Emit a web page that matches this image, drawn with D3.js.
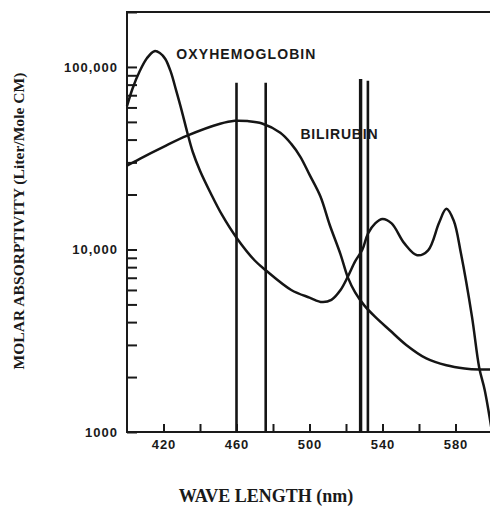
<!DOCTYPE html>
<html>
<head>
<meta charset="utf-8">
<script src="https://cdn.jsdelivr.net/npm/d3@7"></script>
<style>
  html, body { margin: 0; padding: 0; background: #fff; }
  svg { display: block; }
</style>
</head>
<body>
<div id="chart"></div>
<script>
// oxyhemoglobin curve, wavelength (nm) and molar absorptivity
var oxyNm  = [400, 403, 407, 411, 415, 418, 421, 424, 427, 430, 433, 436, 440, 446, 452, 460, 470, 476, 490, 500, 507, 512, 517, 521, 525, 529, 532, 536, 540, 545, 552, 559, 565, 571, 575, 579, 583, 589, 593, 596, 600];
var oxyVal = [61000, 76000, 95000, 112000, 122000, 119300, 110600, 93900, 73900, 57500, 43900, 34300, 27000, 20200, 15500, 11600, 8700, 7700, 6000, 5450, 5150, 5300, 6000, 7100, 8600, 10000, 12200, 13900, 14700, 13900, 10800, 9300, 9900, 14000, 16700, 14400, 9500, 4300, 2250, 1700, 1000];
// bilirubin curve
var biliNm  = [400, 407, 420, 433, 451, 459, 466, 474, 484, 490, 495, 500, 506, 511, 517, 521, 525, 530, 536, 544, 553, 564, 575, 585, 593, 600];
var biliVal = [28800, 31400, 36500, 42000, 48800, 50700, 50500, 49000, 43600, 37900, 32200, 25700, 19500, 13700, 9400, 7030, 5820, 4940, 4270, 3610, 3000, 2530, 2320, 2230, 2200, 2200];
// vertical source lines
var lineNm  = [460, 476, 528, 532];
var lineTop = [82000, 82000, 86000, 84000];
// axis ticks
var xTicks      = [420, 440, 460, 480, 500, 520, 540, 560, 580];
var xTickLabels = ["420", "", "460", "", "500", "", "540", "", "580"];
var yTickValues = [1000, 10000, 100000];
var yTickLabels = ["1000", "10,000", "100,000"];

(function(){
    var Chart = {
        dim: { w: 490, h: 508, left: 127, top: 12, right: 492, bottom: 432 },
        init: function() {
            this.svg = d3.select("#chart").append("svg")
                .attr("width", this.dim.w)
                .attr("height", this.dim.h);
            this.x = d3.scaleLinear().domain([400, 600]).range([this.dim.left, this.dim.right]);
            this.y = d3.scaleLog().domain([1000, 200000]).range([this.dim.bottom, this.dim.top]);
            this.drawAxes();
            this.drawCurves();
            this.drawLabels();
        },
        drawAxes: function() {
            var x = this.x, y = this.y, d = this.dim, svg = this.svg;
            var xa = svg.append("g")
                .attr("transform", "translate(0," + d.bottom + ")")
                .call(d3.axisBottom(x)
                    .tickValues(xTicks)
                    .tickSize(-8)
                    .tickSizeOuter(0)
                    .tickPadding(8)
                    .tickFormat(function(v, i){ return xTickLabels[i]; }));
            var ya = svg.append("g")
                .attr("transform", "translate(" + d.left + ",0)")
                .call(d3.axisLeft(y)
                    .tickValues(y.ticks())
                    .tickSize(-10)
                    .tickSizeOuter(0)
                    .tickPadding(9)
                    .tickFormat(function(v){
                        var k = yTickValues.indexOf(v);
                        return k < 0 ? "" : yTickLabels[k];
                    }));
            [xa, ya].forEach(function(g){
                g.select(".domain").remove();
                g.selectAll(".tick line").attr("stroke", "#1a1a1a").attr("stroke-width", 2);
                g.selectAll(".tick text")
                    .attr("fill", "#1a1a1a")
                    .style("font-family", "'Liberation Sans', Arial, sans-serif")
                    .style("font-weight", "bold")
                    .style("font-size", "13px")
                    .style("letter-spacing", "1px");
            });
            // frame
            svg.append("rect")
                .attr("x", d.left).attr("y", d.top)
                .attr("width", d.right - d.left).attr("height", d.bottom - d.top)
                .attr("fill", "none").attr("stroke", "#1a1a1a").attr("stroke-width", 2);
        },
        drawCurves: function() {
            var x = this.x, y = this.y, svg = this.svg;
            var line = d3.line()
                .x(function(p){ return x(p[0]); })
                .y(function(p){ return y(p[1]); })
                .curve(d3.curveCatmullRom.alpha(0.5));
            var curves = [d3.zip(oxyNm, oxyVal), d3.zip(biliNm, biliVal)];
            svg.selectAll("path.curve")
                .data(curves)
                .enter().append("path")
                .attr("class", "curve")
                .attr("d", line)
                .attr("fill", "none")
                .attr("stroke", "#151515")
                .attr("stroke-width", 2.5);
            svg.selectAll("line.src")
                .data(d3.zip(lineNm, lineTop))
                .enter().append("line")
                .attr("class", "src")
                .attr("x1", function(p){ return x(p[0]); })
                .attr("x2", function(p){ return x(p[0]); })
                .attr("y1", function(p){ return y(p[1]); })
                .attr("y2", y(1000))
                .attr("stroke", "#151515")
                .attr("stroke-width", function(p, i){ return i == 2 ? 3.4 : 2.6; });
        },
        drawLabels: function() {
            var x = this.x, y = this.y, svg = this.svg;
            var sans = "'Liberation Sans', Arial, sans-serif";
            var serif = "'Liberation Serif', 'Times New Roman', serif";
            svg.append("text")
                .attr("x", x(427)).attr("y", y(110000))
                .style("font-family", sans).style("font-weight", "bold")
                .style("font-size", "14px").style("letter-spacing", "1.1px")
                .attr("fill", "#1a1a1a")
                .text("OXYHEMOGLOBIN");
            svg.append("text")
                .attr("x", x(495)).attr("y", y(40400))
                .style("font-family", sans).style("font-weight", "bold")
                .style("font-size", "14px").style("letter-spacing", "0.8px")
                .attr("fill", "#1a1a1a")
                .text("BILIRUBIN");
            // axis titles
            svg.append("text")
                .attr("x", 266).attr("y", 502)
                .attr("text-anchor", "middle")
                .style("font-family", serif).style("font-weight", "bold")
                .style("font-size", "18px")
                .attr("fill", "#1a1a1a")
                .text("WAVE LENGTH (nm)");
            svg.append("text")
                .attr("transform", "translate(24,221) rotate(-90)")
                .attr("text-anchor", "middle")
                .style("font-family", serif).style("font-weight", "bold")
                .style("font-size", "15.6px")
                .attr("fill", "#1a1a1a")
                .text("MOLAR ABSORPTIVITY (Liter/Mole CM)");
        }
    };

    Chart.init();
})();
</script>
</body>
</html>
